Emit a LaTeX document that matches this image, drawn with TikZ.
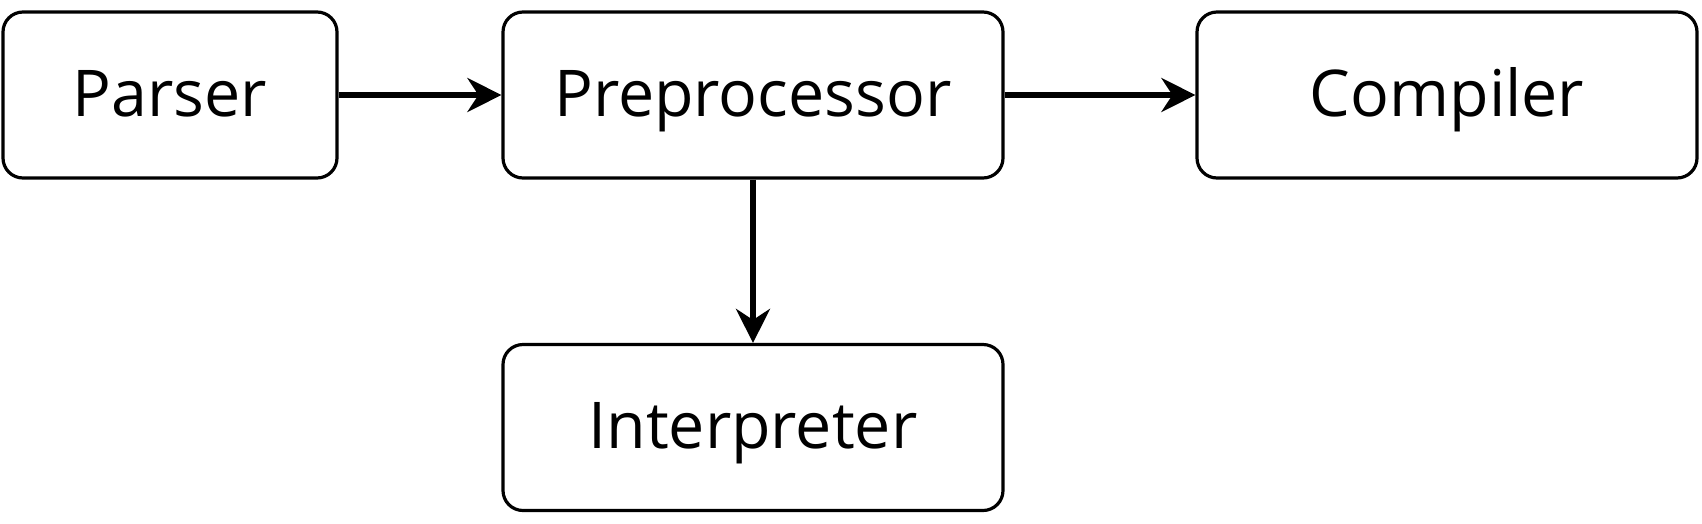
\documentclass[tikz,border=0pt]{standalone}
\usepackage{fontspec}
\setmainfont{Open Sans}
\usetikzlibrary{arrows.meta}
\begin{document}
\begin{tikzpicture}[x=1pt,y=-1pt,
  box/.style={draw=black, line width=3.2pt, rounded corners=20pt, inner sep=0pt,
    minimum height=166pt, font=\fontsize{64.5}{70}\selectfont, text height=46pt, text depth=4pt},
  conn/.style={line width=5.5pt, -{Stealth[length=34pt,width=34pt,inset=11pt]}}]
\useasboundingbox (0,0) rectangle (1702,523);
\node[box, minimum width=334pt] (parser) at (170,95) {Parser};
\node[box, minimum width=500pt] (pre) at (753,95) {Preprocessor};
\node[box, minimum width=500pt] (comp) at (1447,95) {Compiler};
\node[box, minimum width=500pt] (interp) at (753,427.5) {Interpreter};
\draw[conn] (parser.east) -- (pre.west);
\draw[conn] (pre.east) -- (comp.west);
\draw[conn] (pre.south) -- (interp.north);
\end{tikzpicture}
\end{document}
